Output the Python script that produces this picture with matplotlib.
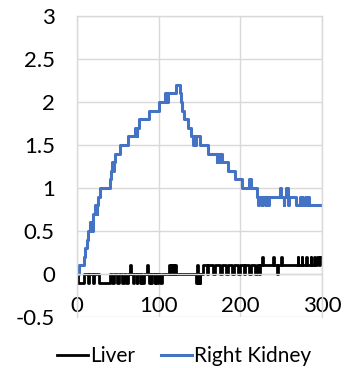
import matplotlib

matplotlib.use('Agg')
import matplotlib.pyplot as plt

plt.rcParams['font.family'] = ['Lato', 'DejaVu Sans']

# step change points (time s, value)
kidney_t = [0, 2, 8, 10, 12, 14, 16, 18, 19, 20, 22, 24, 25, 26, 28,
            40, 42, 43, 44, 45, 46, 53, 62, 71, 73, 74, 76, 88, 100,
            108, 110, 111, 121, 126, 127, 129, 131, 136, 140, 142, 143,
            145, 146, 150, 160, 171, 172, 174, 175, 177, 185, 193, 202,
            210, 213, 220, 222, 223, 226, 227, 230, 231, 234, 235, 248,
            250, 253, 254, 256, 258, 259, 268, 273, 274, 276, 277, 280,
            281, 283, 284, 300]
kidney_v = [0.0, 0.1, 0.2, 0.3, 0.4, 0.5, 0.6, 0.5, 0.6, 0.7, 0.8, 0.7, 0.8, 0.9, 1.0,
            1.1, 1.2, 1.3, 1.2, 1.3, 1.4, 1.5, 1.6, 1.7, 1.6, 1.7, 1.8, 1.9, 2.0,
            2.1, 2.0, 2.1, 2.2, 2.1, 2.0, 1.9, 1.8, 1.7, 1.6, 1.5, 1.6,
            1.5, 1.6, 1.5, 1.4, 1.3, 1.4, 1.3, 1.4, 1.3, 1.2, 1.1, 1.0,
            1.1, 1.0, 0.9, 0.8, 0.9, 0.8, 0.9, 0.8, 0.9, 0.8, 0.9, 1.0,
            0.9, 0.8, 0.9, 1.0, 0.8, 0.9, 0.8, 0.9, 0.8, 0.9, 0.8, 0.9,
            0.8, 0.9, 0.8, 0.8]

liver_t = [0, 1, 9, 13, 15, 19, 21, 27, 40, 43, 45, 49, 51, 55, 57, 60, 62,
           65, 66, 68, 70, 73, 74, 77, 78, 80, 82, 86, 87, 88, 89, 91, 92,
           95, 96, 98, 99, 102, 104, 113, 114, 115, 116, 117, 119, 120, 121,
           146, 147, 148, 149, 150, 151, 154, 159, 161, 167, 169, 175, 177,
           183, 185, 190, 192, 197, 199, 204, 206, 211, 213, 218, 220, 223,
           224, 227, 228, 240, 241, 245, 246, 250, 251, 270, 271,
           275, 276, 281, 282, 286, 287, 290, 292, 294, 296, 298, 300]
liver_v = [0.0, -0.1, 0.0, -0.1, 0.0, -0.1, 0.0, -0.1, 0.0, -0.1, 0.0, -0.1, 0.0, -0.1, 0.0, -0.1, 0.0,
           0.1, 0.0, -0.1, 0.0, -0.1, 0.0, -0.1, 0.0, -0.1, 0.0, 0.1, 0.0, -0.1, 0.0, -0.1, 0.0,
           -0.1, 0.0, -0.1, 0.0, -0.1, 0.0, 0.1, 0.0, 0.1, 0.0, 0.1, 0.0, 0.1, 0.0,
           -0.1, 0.1, -0.1, 0.0, -0.1, 0.0, 0.1, 0.0, 0.1, 0.0, 0.1, 0.0, 0.1,
           0.0, 0.1, 0.0, 0.1, 0.0, 0.1, 0.0, 0.1, 0.0, 0.1, 0.0, 0.1, 0.0,
           0.1, 0.2, 0.1, 0.2, 0.1, 0.0, 0.1, 0.2, 0.1, 0.2, 0.1,
           0.2, 0.1, 0.2, 0.1, 0.2, 0.1, 0.2, 0.1, 0.2, 0.1, 0.2, 0.2]

x_ticks = [0, 100, 200, 300]
y_ticks = [-0.5, 0, 0.5, 1, 1.5, 2, 2.5, 3]
y_labels = ['-0.5', '0', '0.5', '1', '1.5', '2', '2.5', '3']

grid_c = '#d9d9d9'

fig = plt.figure(figsize=(3.54, 3.68), dpi=100)
ax = fig.add_axes([77 / 354, 51 / 368, 245 / 354, 301 / 368])

ax.plot(liver_t, liver_v, drawstyle='steps-post', color='black', lw=2.0, label='Liver')
ax.plot(kidney_t, kidney_v, drawstyle='steps-post', color='#4472C4', lw=2.2, label='Right Kidney')

ax.set_xlim(0, 300)
ax.set_ylim(-0.5, 3)
ax.set_xticks(x_ticks)
ax.set_yticks(y_ticks)
ax.set_yticklabels(y_labels)
ax.grid(True, color=grid_c, lw=1.0)
ax.set_axisbelow(True)

for s in ax.spines.values():
    s.set_color(grid_c)
    s.set_linewidth(1.0)
ax.spines['bottom'].set_position(('data', 0))

ax.tick_params(axis='both', length=0, labelsize=16)
ax.tick_params(axis='y', pad=16)
ax.tick_params(axis='x', pad=16)

fig.legend(loc='center', bbox_to_anchor=(0.52, 12 / 368), ncol=2, frameon=False,
           fontsize=15, handlelength=1.5, handletextpad=0.1, columnspacing=1.2)

plt.savefig('out.png', dpi=100)
